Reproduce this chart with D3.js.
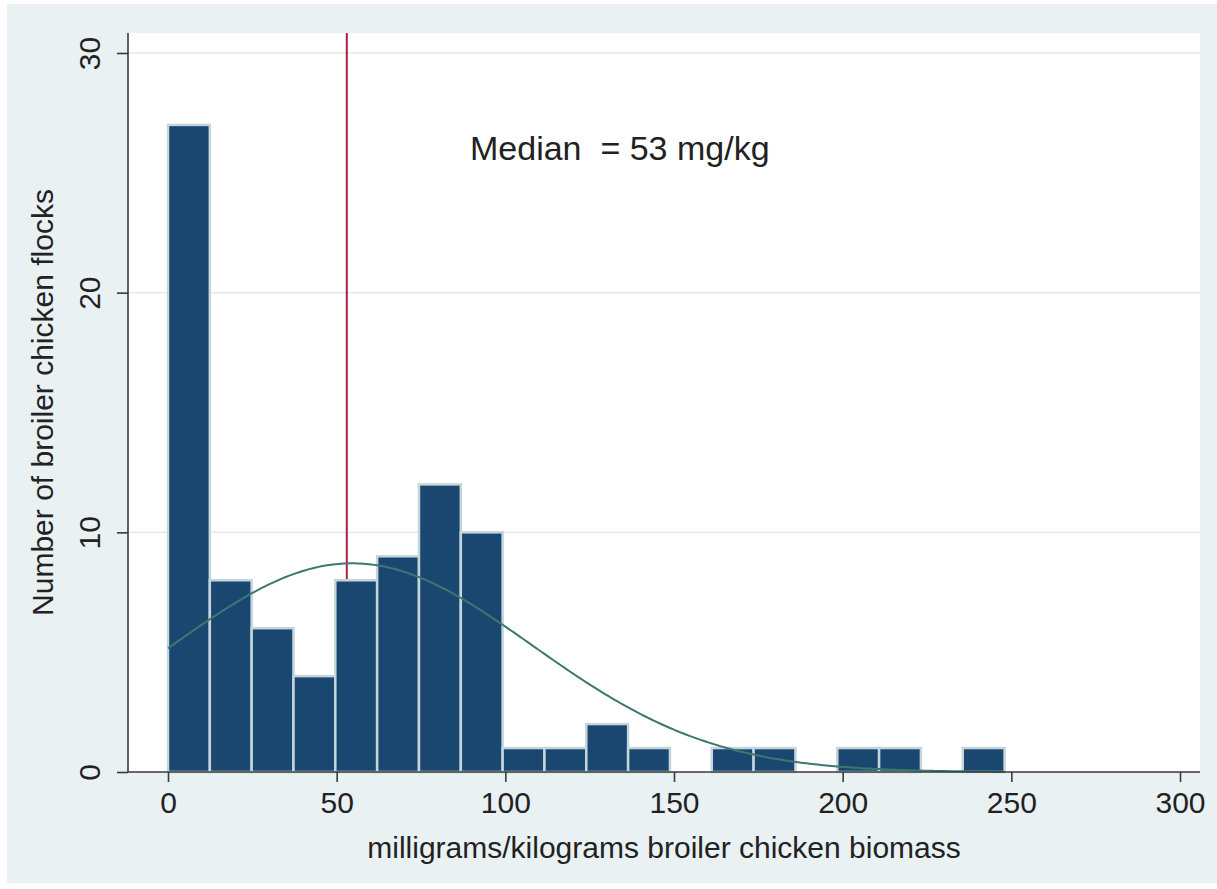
<!DOCTYPE html>
<html>
<head>
<meta charset="utf-8">
<script src="https://cdn.jsdelivr.net/npm/d3@7"></script>
<style>
  html, body { margin: 0; padding: 0; background: #ffffff; }
  svg { display: block; }
  text { font-family: "Liberation Sans", Arial, Helvetica, sans-serif; fill: #222222; }
</style>
</head>
<body>
<svg id="chart" width="1217" height="889"></svg>
<script>
// Histogram of antimicrobial use per flock (mg/kg broiler chicken biomass)
const binStart = 0;
const binWidth = 12.4;
const binCounts = [27, 8, 6, 4, 8, 9, 12, 10, 1, 1, 2, 1, 0, 1, 1, 0, 1, 1, 0, 1];

// Fitted normal density (overlaid as frequency)
const fitMean = 54.6;
const fitSD = 53.4;

// Median marker
const medianValue = 53;
const medianLabel = "Median  = 53 mg/kg";

// Axes
const xTicks = [0, 50, 100, 150, 200, 250, 300];
const yTicks = [0, 10, 20, 30];
const xTitle = "milligrams/kilograms broiler chicken biomass";
const yTitle = "Number of broiler chicken flocks";

const svg = d3.select("#chart");
const W = 1217, H = 889;

// plot region (white) inside the graph region (tinted)
const region = { left: 128, top: 33, right: 1200, bottom: 772 };

const x = d3.scaleLinear().domain([0, 300]).range([168, 1180]);
const y = d3.scaleLinear().domain([0, 30]).range([772, 53]);

// graph region background
svg.append("rect")
  .attr("x", 7).attr("y", 4).attr("width", W - 7).attr("height", 879)
  .attr("fill", "#e9f1f3");

// plot region
svg.append("rect")
  .attr("x", region.left).attr("y", region.top)
  .attr("width", region.right - region.left).attr("height", region.bottom - region.top)
  .attr("fill", "#ffffff");

// horizontal gridlines
svg.append("g").selectAll("line")
  .data(yTicks.filter(d => d > 0))
  .join("line")
  .attr("x1", region.left).attr("x2", region.right)
  .attr("y1", d => y(d)).attr("y2", d => y(d))
  .attr("stroke", "#e5e9eb").attr("stroke-width", 1.5);

// median reference line (drawn beneath the bars)
svg.append("line")
  .attr("x1", x(medianValue)).attr("x2", x(medianValue))
  .attr("y1", region.top).attr("y2", region.bottom)
  .attr("stroke", "#a8223e").attr("stroke-width", 2);

// histogram bars
const bins = binCounts.map((c, i) => ({
  x0: binStart + i * binWidth,
  x1: binStart + (i + 1) * binWidth,
  count: c
}));

svg.append("g").selectAll("rect")
  .data(bins.filter(b => b.count > 0))
  .join("rect")
  .attr("x", b => x(b.x0))
  .attr("width", b => x(b.x1) - x(b.x0))
  .attr("y", b => y(b.count))
  .attr("height", b => y(0) - y(b.count))
  .attr("fill", "#1a476f")
  .attr("stroke", "#c4d6dc")
  .attr("stroke-width", 2.5);

// normal density scaled to counts
const total = d3.sum(binCounts);
const xMax = binStart + binCounts.length * binWidth;
const curve = d3.range(0, 301).map(k => {
  const v = binStart + (xMax - binStart) * k / 300;
  const z = (v - fitMean) / fitSD;
  return [v, total * binWidth * Math.exp(-0.5 * z * z) / (fitSD * Math.sqrt(2 * Math.PI))];
});
svg.append("path")
  .datum(curve)
  .attr("fill", "none")
  .attr("stroke", "#3a7870")
  .attr("stroke-width", 2)
  .attr("d", d3.line().x(d => x(d[0])).y(d => y(d[1])));

// axis lines
svg.append("line")
  .attr("x1", region.left).attr("x2", region.left)
  .attr("y1", region.top).attr("y2", region.bottom)
  .attr("stroke", "#3a3a3a").attr("stroke-width", 1.6);
svg.append("line")
  .attr("x1", region.left).attr("x2", region.right)
  .attr("y1", region.bottom).attr("y2", region.bottom)
  .attr("stroke", "#3a3a3a").attr("stroke-width", 1.6);

// x axis ticks and labels
const gx = svg.append("g")
  .attr("transform", `translate(0,${region.bottom})`)
  .call(d3.axisBottom(x).tickValues(xTicks).tickSize(10).tickSizeOuter(0).tickFormat(d3.format("d")));
gx.select(".domain").remove();
gx.selectAll(".tick line").attr("stroke", "#3a3a3a").attr("stroke-width", 1.6);
gx.selectAll(".tick text")
  .attr("y", 41).attr("dy", 0)
  .attr("font-size", 30)
  .attr("fill", "#222222");

// y axis ticks and rotated labels
const gy = svg.append("g")
  .attr("transform", `translate(${region.left},0)`)
  .call(d3.axisLeft(y).tickValues(yTicks).tickSize(11).tickSizeOuter(0).tickFormat(d3.format("d")));
gy.select(".domain").remove();
gy.selectAll(".tick line").attr("stroke", "#3a3a3a").attr("stroke-width", 1.6);
gy.selectAll(".tick text")
  .attr("x", 0).attr("dy", 0)
  .attr("text-anchor", "middle")
  .attr("transform", "translate(-28,0) rotate(-90)")
  .attr("font-size", 30)
  .attr("fill", "#222222");

// axis titles
svg.append("text")
  .attr("x", (region.left + region.right) / 2).attr("y", 858)
  .attr("text-anchor", "middle")
  .attr("font-size", 30)
  .text(xTitle);

svg.append("text")
  .attr("transform", `translate(53,${(region.top + region.bottom) / 2}) rotate(-90)`)
  .attr("text-anchor", "middle")
  .attr("font-size", 30)
  .text(yTitle);

// median annotation
svg.append("text")
  .attr("x", 470).attr("y", 160)
  .attr("font-size", 34)
  .style("white-space", "pre")
  .text(medianLabel);
</script>
</body>
</html>
